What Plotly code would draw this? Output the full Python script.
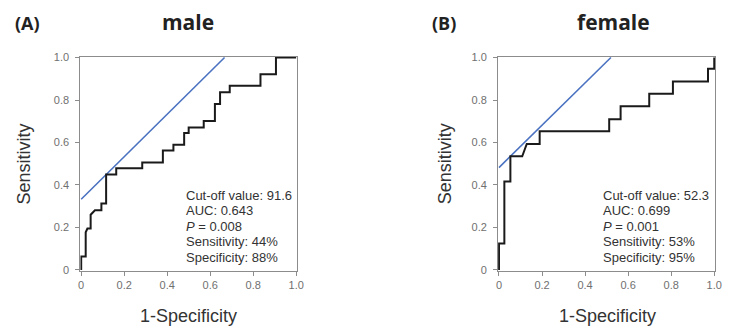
import plotly.graph_objects as go

# ---- data ----
male_fpr = [0, 0, 0.021, 0.021, 0.029, 0.044, 0.044, 0.064, 0.094, 0.094, 0.116, 0.116,
            0.163, 0.163, 0.284, 0.284, 0.380, 0.380, 0.429, 0.429, 0.479, 0.479, 0.500,
            0.500, 0.570, 0.570, 0.622, 0.622, 0.646, 0.646, 0.691, 0.691, 0.834, 0.834,
            0.906, 0.906, 1.0]
male_tpr = [0, 0.063, 0.063, 0.177, 0.195, 0.195, 0.260, 0.281, 0.281, 0.313, 0.313, 0.449,
            0.449, 0.479, 0.479, 0.506, 0.506, 0.562, 0.562, 0.589, 0.589, 0.645, 0.645,
            0.671, 0.671, 0.701, 0.701, 0.781, 0.781, 0.837, 0.837, 0.867, 0.867, 0.921,
            0.921, 1.0, 1.0]
male_tangent_x = [0, 0.667]
male_tangent_y = [0.333, 1.0]

female_fpr = [0, 0, 0.025, 0.025, 0.053, 0.053, 0.108, 0.129, 0.189, 0.189, 0.512, 0.512,
              0.565, 0.565, 0.698, 0.698, 0.808, 0.808, 0.971, 0.971, 1.0, 1.0]
female_tpr = [0, 0.125, 0.125, 0.416, 0.416, 0.535, 0.535, 0.593, 0.593, 0.653, 0.653, 0.710,
              0.710, 0.771, 0.771, 0.830, 0.830, 0.887, 0.887, 0.947, 0.947, 1.0]
female_tangent_x = [0, 0.52]
female_tangent_y = [0.482, 1.0]

male_stats = ["Cut-off value: 91.6", "AUC: 0.643", "<i>P</i> = 0.008",
              "Sensitivity: 44%", "Specificity: 88%"]
female_stats = ["Cut-off value: 52.3", "AUC: 0.699", "<i>P</i> = 0.001",
                "Sensitivity: 53%", "Specificity: 95%"]

tick_vals = [0, 0.2, 0.4, 0.6, 0.8, 1.0]
tick_text = ["0", "0.2", "0.4", "0.6", "0.8", "1.0"]

W, H = 731, 333
FONT = "Liberation Sans, Arial, sans-serif"

fig = go.Figure()
fig.add_trace(go.Scatter(x=male_tangent_x, y=male_tangent_y, mode="lines",
                         line=dict(color="#4a72c0", width=1.6), xaxis="x", yaxis="y",
                         showlegend=False, hoverinfo="skip"))
fig.add_trace(go.Scatter(x=male_fpr, y=male_tpr, mode="lines",
                         line=dict(color="#1a1a1a", width=2), xaxis="x", yaxis="y",
                         showlegend=False))
fig.add_trace(go.Scatter(x=female_tangent_x, y=female_tangent_y, mode="lines",
                         line=dict(color="#4a72c0", width=1.6), xaxis="x2", yaxis="y2",
                         showlegend=False, hoverinfo="skip"))
fig.add_trace(go.Scatter(x=female_fpr, y=female_tpr, mode="lines",
                         line=dict(color="#1a1a1a", width=2), xaxis="x2", yaxis="y2",
                         showlegend=False))

def px_x(p):
    return p / W

def px_y(p):
    return 1 - p / H

left1, right1 = 79.3, 298.7
left2, right2 = 502.3, 722.0
top, bottom = 53.3, 274.0

axis_common = dict(range=[-0.004, 1.004], tickvals=tick_vals, ticktext=tick_text,
                   showgrid=False, zeroline=False, showline=True, linecolor="#8c8c8c",
                   linewidth=1, mirror=True, ticks="outside", ticklen=4, tickcolor="#8c8c8c",
                   tickfont=dict(family=FONT, size=11, color="#707070"), fixedrange=True)
yaxis_extra = dict(ticklabelstandoff=4)

fig.update_layout(
    width=W, height=H, margin=dict(l=0, r=0, t=0, b=0),
    paper_bgcolor="white", plot_bgcolor="white",
    xaxis=dict(domain=[px_x(left1), px_x(right1)], anchor="y", **axis_common),
    yaxis=dict(domain=[px_y(bottom), px_y(top)], anchor="x", **axis_common, **yaxis_extra),
    xaxis2=dict(domain=[px_x(left2), px_x(right2)], anchor="y2", **axis_common),
    yaxis2=dict(domain=[px_y(bottom), px_y(top)], anchor="x2", **axis_common, **yaxis_extra),
)

ann = []
def add(text, x, y, size, color="#333333", xanchor="center", angle=0, family=FONT):
    ann.append(dict(text=text, x=px_x(x), y=px_y(y), xref="paper", yref="paper",
                    xanchor=xanchor, yanchor="middle", showarrow=False, textangle=angle,
                    font=dict(family=family, size=size, color=color)))

TFONT = "Open Sans, Liberation Sans, Arial, sans-serif"
add("<b>(A)</b>", 11.5, 19, 18, "#222222", xanchor="left", family=TFONT)
add("<b>male</b>", 188, 18, 21, "#222222", family=TFONT)
add("<b>(B)</b>", 433, 19, 18, "#222222", xanchor="left", family=TFONT)
add("<b>female</b>", 619, 18, 21, "#222222", family=TFONT)

add("Sensitivity", 22, (top + bottom) / 2, 18, angle=-90)
add("Sensitivity", 448, (top + bottom) / 2, 18, angle=-90)
add("1-Specificity", (left1 + right1) / 2, 321, 18)
add("1-Specificity", 613, 321, 18)

for i, t in enumerate(male_stats):
    add(t, 184, 196 + 16.1 * i, 13, xanchor="left")
for i, t in enumerate(female_stats):
    add(t, 606, 196 + 16.1 * i, 13, xanchor="left")

fig.update_layout(annotations=ann)
fig.write_html("out.html")
